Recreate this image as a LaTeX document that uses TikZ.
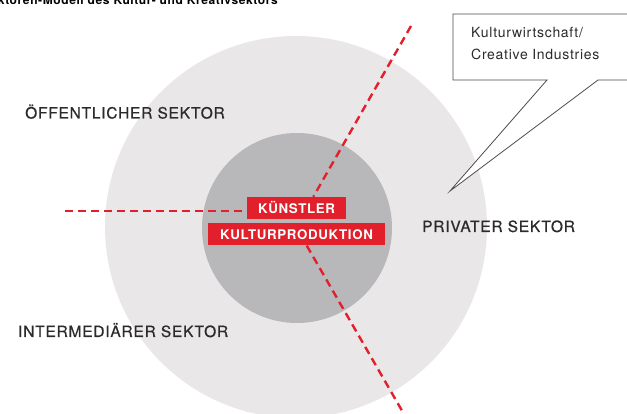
\documentclass[tikz,border=0pt]{standalone}
\usepackage{fontspec}
\setmainfont{TeX Gyre Heros}[LetterSpace=5]
\usetikzlibrary{positioning,calc}
\definecolor{rojo}{HTML}{E2202C}
\definecolor{grisclaro}{HTML}{E9E7E7}
\definecolor{grisoscuro}{HTML}{B8B8BA}
\definecolor{texto}{HTML}{2B2B2B}

\begin{document}
\begin{tikzpicture}[
            x=1pt, y=-1pt,
            sector/.style={font=\fontsize{15.5}{18}\selectfont\addfontfeature{FakeBold=0.6}, text=texto, inner sep=0pt, anchor=base west},
            etiqueta/.style={fill=rojo, text=white, font=\fontsize{13.3}{16}\selectfont\bfseries, inner sep=0pt, minimum height=22pt},
            discontinua/.style={rojo, line width=2.4pt, dash pattern=on 8pt off 5pt},
            globo/.style={draw=texto!85, line width=0.8pt, fill=white}
        ]
        \useasboundingbox (0,0) rectangle (627,414);

        % Titulo (cortado arriba)
        \node[font=\fontsize{12}{14}\selectfont\bfseries, text=black, anchor=base east, inner sep=0pt] (titulo) at (278,4.5)
        {Drei-Sektoren-Modell des Kultur- und Kreativsektors};

        % Circulos: sector exterior y nucleo
        \coordinate (centro) at (296,227);
        \fill[grisclaro] (centro) circle (191);
        \fill[grisoscuro] (297,228) circle (95);

        % Etiquetas rojas en el centro
        \node[etiqueta, minimum width=99pt] (kuenstler) at (296.5,208) {KÜNSTLER};
        \node[etiqueta, minimum width=177pt, below=4pt of kuenstler] (kultur) {KULTURPRODUKTION};

        % Lineas divisorias discontinuas
        \coordinate (oeste) at (65,211);
        \coordinate (norte) at (411,26);
        \coordinate (sur) at (412,428);
        \draw[discontinua] (oeste) -- (oeste -| kuenstler.west);
        \draw[discontinua] (norte) -- (intersection of centro--norte and kuenstler.north west--kuenstler.north east);
        \draw[discontinua] (intersection of centro--sur and kultur.south west--kultur.south east) -- (sur);

        % Nombres de los sectores
        \node[sector] (publico) at (25,118.5) {ÖFFENTLICHER SEKTOR};
        \node[sector] (intermedio) at (18,337) {INTERMEDIÄRER SEKTOR};
        \node[sector] (privado) at (422,232) {PRIVATER SEKTOR};

        % Globo de comentario con la punta hacia el sector privado
        \coordinate (punta) at (450,191);
        \draw[globo] (453,80) -- (453,14) -- (645,14) -- (645,80) -- (598,80) -- (punta) -- (547,80) -- cycle;
        \node[font=\fontsize{14}{22}\selectfont, text=texto, align=left, anchor=north west, inner sep=0pt] (comentario) at (471,27)
        {Kulturwirtschaft/\\Creative Industries};

    \end{tikzpicture}
\end{document}
